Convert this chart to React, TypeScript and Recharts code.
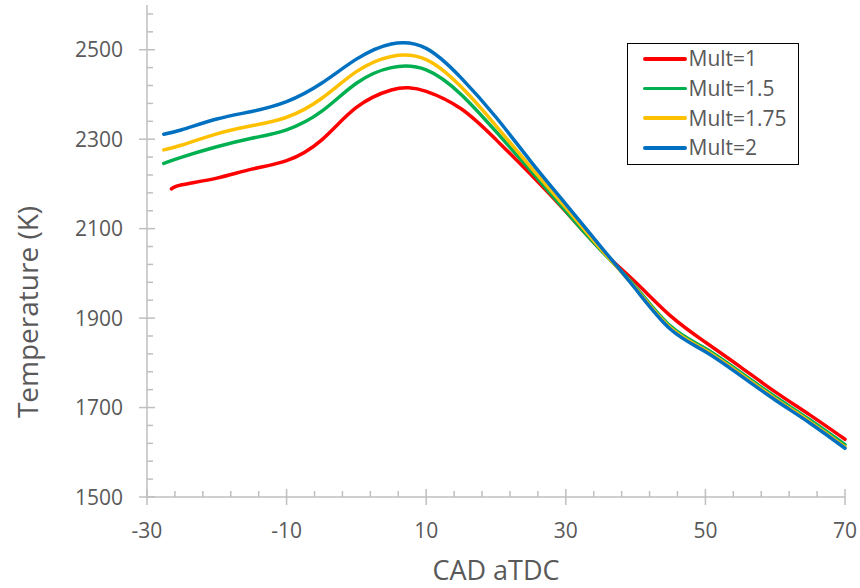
import { Label, Line, LineChart, XAxis, YAxis } from "recharts";

const cad = [-27.6, -25, -20, -15, -10, -5, 0, 5, 10, 15, 20, 25, 30, 35, 40, 45, 50, 55, 60, 65, 70];
const cadRed = [-26.5, -25, -20, -15, -10, -5, 0, 5, 7.5, 10, 15, 20, 25, 30, 35, 40, 45, 50, 55, 60, 65, 70];

const mult1 = [2189, 2198, 2213, 2233, 2252, 2298, 2371, 2410, 2415, 2407, 2368, 2299, 2221, 2138, 2053, 1980, 1905, 1846, 1791, 1735, 1683, 1629];
const mult15 = [2246, 2260, 2283, 2302, 2321, 2362, 2425, 2460, 2455, 2400, 2317, 2229, 2139, 2052, 1970, 1882, 1832, 1779, 1724, 1672, 1617];
const mult175 = [2276, 2287, 2312, 2330, 2349, 2391, 2451, 2485, 2478, 2417, 2330, 2237, 2147, 2055, 1967, 1878, 1828, 1775, 1720, 1668, 1612];
const mult2 = [2311, 2321, 2345, 2362, 2384, 2425, 2479, 2513, 2503, 2437, 2349, 2250, 2155, 2060, 1965, 1875, 1825, 1772, 1717, 1665, 1609];

const seriesNames = ["Mult=1", "Mult=1.5", "Mult=1.75", "Mult=2"];
const seriesColors = ["#FF0000", "#00B050", "#FFC000", "#0070C0"];

const xMajorTicks = [-30, -10, 10, 30, 50, 70];
const yMajorTicks = [1500, 1700, 1900, 2100, 2300, 2500];
// minor ticks: every 4 on x, every 40 on y
const xAllTicks = Array.from({ length: 26 }, (_, i) => -30 + 4 * i);
const yAllTicks = Array.from({ length: 28 }, (_, i) => 1500 + 40 * i);

const toRows = (xs: number[], ys: number[]) => xs.map((cadValue, i) => ({ cad: cadValue, temp: ys[i] }));

const series = [
  { name: seriesNames[0], color: seriesColors[0], data: toRows(cadRed, mult1) },
  { name: seriesNames[1], color: seriesColors[1], data: toRows(cad, mult15) },
  { name: seriesNames[2], color: seriesColors[2], data: toRows(cad, mult175) },
  { name: seriesNames[3], color: seriesColors[3], data: toRows(cad, mult2) },
];

const FONT = "'Open Sans', sans-serif";
const TEXT = "#595959";
const AXIS = "#BFBFBF";

const YTick = ({ x, y, payload }: any) => {
  const major = yMajorTicks.includes(payload.value);
  return (
    <g>
      {major ? (
        <line x1={x - 8} x2={x + 8} y1={y} y2={y} stroke={AXIS} strokeWidth={1.5} />
      ) : (
        <line x1={x} x2={x + 6} y1={y} y2={y} stroke={AXIS} strokeWidth={1.5} />
      )}
      {major && (
        <text x={x - 24} y={y} dy="0.36em" textAnchor="end" fill={TEXT} fontSize={21} fontFamily={FONT}>
          {payload.value}
        </text>
      )}
    </g>
  );
};

const XTick = ({ x, y, payload }: any) => {
  const major = xMajorTicks.includes(payload.value);
  return (
    <g>
      {major ? (
        <line x1={x} x2={x} y1={y - 8} y2={y + 8} stroke={AXIS} strokeWidth={1.5} />
      ) : (
        <line x1={x} x2={x} y1={y - 6} y2={y} stroke={AXIS} strokeWidth={1.5} />
      )}
      {major && (
        <text x={x} y={y + 41} textAnchor="middle" fill={TEXT} fontSize={21} fontFamily={FONT}>
          {payload.value}
        </text>
      )}
    </g>
  );
};

const XTitle = ({ viewBox }: any) => (
  <text
    x={viewBox.x + viewBox.width / 2}
    y={viewBox.y + viewBox.height - 8}
    textAnchor="middle"
    fill={TEXT}
    fontSize={27}
    fontFamily={FONT}
  >
    CAD aTDC
  </text>
);

const YTitle = ({ viewBox }: any) => {
  const cx = viewBox.x + 28;
  const cy = viewBox.y + viewBox.height / 2 + 61;
  return (
    <text
      x={cx}
      y={cy}
      dy="0.36em"
      transform={`rotate(-90, ${cx}, ${cy})`}
      textAnchor="middle"
      fill={TEXT}
      fontSize={28}
      fontFamily={FONT}
    >
      Temperature (K)
    </text>
  );
};

const ChartLegend = () => (
  <div
    style={{
      position: "absolute",
      left: 627,
      top: 43,
      width: 172,
      height: 122,
      boxSizing: "border-box",
      border: "1.5px solid #000",
      background: "#fff",
      fontFamily: FONT,
      fontSize: 21,
      color: TEXT,
    }}
  >
    {series.map((s) => (
      <div key={s.name} style={{ display: "flex", alignItems: "center", height: 29.7 }}>
        <span style={{ display: "inline-block", marginLeft: 14.5, width: 44, height: 3.5, background: s.color, borderRadius: 2 }} />
        <span style={{ marginLeft: 2, lineHeight: 1 }}>{s.name}</span>
      </div>
    ))}
  </div>
);

export default function App() {
  return (
    <div style={{ position: "absolute", left: 0, top: 0, width: 860, height: 588, background: "#fff" }}>
      <LineChart width={860} height={588} margin={{ top: 5, right: 15, bottom: 0, left: 0 }}>
        <XAxis
          dataKey="cad"
          type="number"
          domain={[-30, 70]}
          ticks={xAllTicks}
          interval={0}
          tick={<XTick />}
          tickLine={false}
          tickSize={0}
          tickMargin={0}
          height={91}
          stroke={AXIS}
          strokeWidth={1.5}
          allowDuplicatedCategory={false}
        >
          <Label content={<XTitle />} />
        </XAxis>
        <YAxis
          type="number"
          domain={[1500, 2600]}
          ticks={yAllTicks}
          interval={0}
          tick={<YTick />}
          tickLine={false}
          tickSize={0}
          tickMargin={0}
          width={147}
          stroke={AXIS}
          strokeWidth={1.5}
        >
          <Label content={<YTitle />} />
        </YAxis>
        {series.map((s) => (
          <Line
            key={s.name}
            data={s.data}
            dataKey="temp"
            name={s.name}
            type="natural"
            stroke={s.color}
            strokeWidth={3.5}
            strokeLinecap="round"
            dot={false}
            activeDot={false}
            isAnimationActive={false}
          />
        ))}
      </LineChart>
      <ChartLegend />
    </div>
  );
}
